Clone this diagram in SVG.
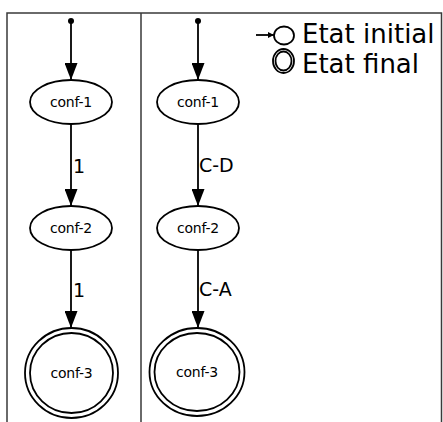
<svg xmlns="http://www.w3.org/2000/svg" width="443" height="422" viewBox="0 0 443 422">
<defs>
<marker id="ah" viewBox="0 0 17 13" refX="17" refY="6.5" markerWidth="17" markerHeight="13" markerUnits="userSpaceOnUse" orient="auto"><path d="M0,0 L17,6.5 L0,13 Z" fill="#000"/></marker>
<marker id="ahs" viewBox="0 0 6 6" refX="6" refY="3" markerWidth="6" markerHeight="6" markerUnits="userSpaceOnUse" orient="auto"><path d="M0,0 L6,3 L0,6 Z" fill="#000"/></marker>
<style>
.frame{stroke:#3a3a3a;stroke-width:1.5;fill:none}
.node{fill:#fff;stroke:#000;stroke-width:1.8}
.edge{stroke:#000;stroke-width:1.8;fill:none}
.nt{font-family:"DejaVu Sans",sans-serif;font-size:14px;text-anchor:middle;fill:#000;letter-spacing:-0.2px}
.lbl{font-family:"DejaVu Sans",sans-serif;font-size:19px;fill:#000}
.leg{font-family:"DejaVu Sans",sans-serif;font-size:26px;fill:#000}
</style>
</defs>
<g id="frame">
<path class="frame" d="M7,422 V13 H441.5 V422 M141,13 V422"/>
</g>
<g id="legend">
<line class="edge" x1="256" y1="35" x2="274" y2="35" stroke-width="1.2" marker-end="url(#ahs)"/>
<ellipse class="node" cx="284" cy="35.5" rx="10" ry="9" stroke-width="1.4"/>
<text class="leg" x="302" y="43">Etat initial</text>
<ellipse class="node" cx="283.5" cy="61" rx="10.5" ry="12" stroke-width="1.4"/>
<ellipse class="node" cx="283.5" cy="61" rx="8" ry="9.5" stroke-width="1.4"/>
<text class="leg" x="302" y="73">Etat final</text>
</g>
<g id="connectors">
<circle cx="71" cy="21" r="3" fill="#000"/>
<line class="edge" x1="71" y1="21" x2="71" y2="80" marker-end="url(#ah)"/>
<line class="edge" x1="71" y1="124" x2="71" y2="206" marker-end="url(#ah)"/>
<line class="edge" x1="71" y1="250" x2="71" y2="328" marker-end="url(#ah)"/>
<text class="lbl" x="73" y="173">1</text>
<text class="lbl" x="73" y="297">1</text>
<circle cx="198" cy="21" r="3" fill="#000"/>
<line class="edge" x1="198" y1="21" x2="198" y2="80" marker-end="url(#ah)"/>
<line class="edge" x1="198" y1="124" x2="198" y2="206" marker-end="url(#ah)"/>
<line class="edge" x1="198" y1="250" x2="198" y2="328" marker-end="url(#ah)"/>
<text class="lbl" x="199" y="172">C-D</text>
<text class="lbl" x="199" y="296">C-A</text>
</g>
<g id="L-conf-1"><ellipse class="node" cx="71" cy="102" rx="41" ry="22"/><text class="nt" x="71" y="107">conf-1</text></g>
<g id="L-conf-2"><ellipse class="node" cx="71" cy="228" rx="41" ry="22"/><text class="nt" x="71" y="233">conf-2</text></g>
<g id="L-conf-3"><ellipse class="node" cx="71.5" cy="373" rx="46.5" ry="45"/><ellipse class="node" cx="71.5" cy="373" rx="41.5" ry="40"/><text class="nt" x="71.5" y="378">conf-3</text></g>
<g id="R-conf-1"><ellipse class="node" cx="198" cy="102" rx="41" ry="22"/><text class="nt" x="198" y="107">conf-1</text></g>
<g id="R-conf-2"><ellipse class="node" cx="198" cy="228" rx="41" ry="22"/><text class="nt" x="198" y="233">conf-2</text></g>
<g id="R-conf-3"><ellipse class="node" cx="197" cy="372" rx="47.5" ry="44"/><ellipse class="node" cx="197" cy="372" rx="42.5" ry="39"/><text class="nt" x="197" y="377">conf-3</text></g>
</svg>
